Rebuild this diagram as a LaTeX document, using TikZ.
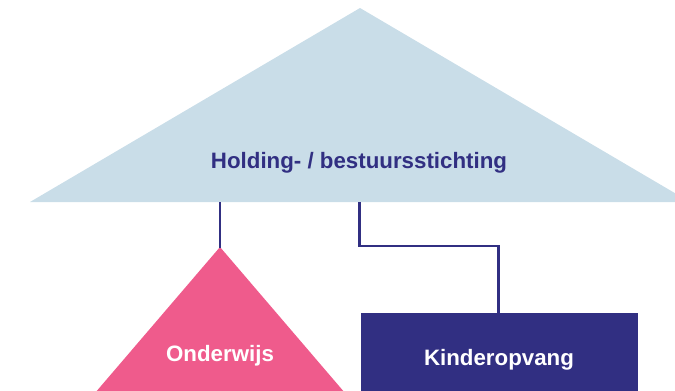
\documentclass[tikz,border=0pt]{standalone}
\usepackage{fontspec}
\setmainfont{Liberation Sans}
\definecolor{lightblue}{HTML}{C9DDE8}
\definecolor{pinkc}{HTML}{EF5B8C}
\definecolor{navy}{HTML}{312F82}
\begin{document}
\begin{tikzpicture}[x=1pt,y=-1pt,
  lbl/.style={font=\bfseries\fontsize{22.3}{24}\selectfont, inner sep=0pt},
  conn/.style={draw=navy, line width=2.3pt}]
\useasboundingbox (0,0) rectangle (675,391);
\begin{scope}
\clip (0,0) rectangle (675,391);
\fill[lightblue] (360,8) -- (690,202) -- (30,202) -- cycle;
\fill[pinkc] (220,247) -- (345,393) -- (95,393) -- cycle;
\fill[navy] (361,313) rectangle (638,395);
\end{scope}
\node[lbl, text=navy] (hold) at (359,163) {Holding- / bestuursstichting};
\node[lbl, text=white] (ond) at (220,356) {Onderwijs};
\node[lbl, text=white] (kind) at (499,360) {Kinderopvang};
\coordinate (h1) at (220,202);
\coordinate (o1) at (220,248);
\coordinate (h2) at (359.5,202);
\coordinate (k1) at (498.5,313);
\draw[conn] (h1) -- (o1);
\draw[conn] (h2) |- (k1 |- 0,246) -- (k1);
\end{tikzpicture}
\end{document}
